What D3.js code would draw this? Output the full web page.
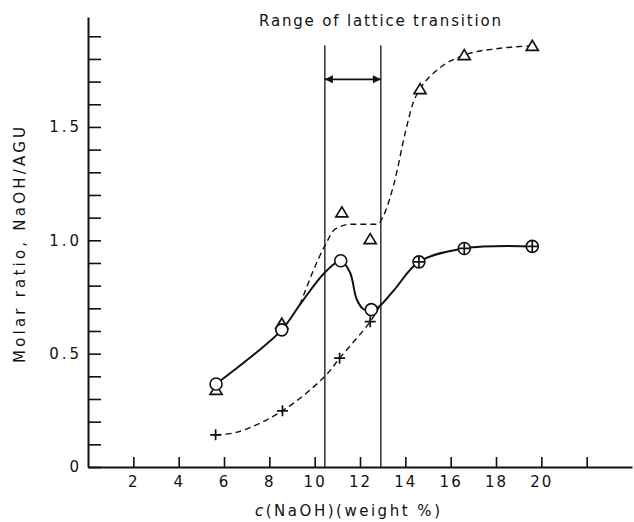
<!DOCTYPE html>
<html>
<head>
<meta charset="utf-8">
<script src="https://cdn.jsdelivr.net/npm/d3@7"></script>
<style>
  body { margin: 0; background: #fff; }
  svg { display: block; }
  text { font-family: 'DejaVu Sans', sans-serif; fill: #111; }
</style>
</head>
<body>
<div id="chart"></div>
<script>
// measured points (x = NaOH weight %, y = molar ratio)
const circleX = [5.65, 8.55, 11.15, 12.5, 14.6, 16.6, 19.6]
const circleY = [0.366, 0.605, 0.91, 0.694, 0.905, 0.964, 0.973]

const triangleX = [5.65, 8.55, 11.2, 12.45, 14.65, 16.6, 19.6]
const triangleY = [0.34, 0.632, 1.123, 1.005, 1.667, 1.817, 1.858]

const crossX = [5.63, 8.58, 11.1, 12.45, 14.6, 16.6, 19.6]
const crossY = [0.142, 0.248, 0.48, 0.641, 0.905, 0.964, 0.973]

// fitted curves as drawn in the figure
const solidCurveX = [5.65, 7.07, 8.55, 9.42, 10.45, 11.15, 11.56, 11.85, 12.14, 12.5, 12.88, 13.54, 14.6, 16.6, 19.6]
const solidCurveY = [0.366, 0.476, 0.605, 0.726, 0.858, 0.91, 0.858, 0.741, 0.697, 0.69, 0.711, 0.785, 0.905, 0.964, 0.973]

const upperCurveX = [9.35, 10.45, 10.9, 11.6, 12.8, 13.0, 13.5, 14.0, 14.35, 14.65, 15.45, 16.6, 18.1, 19.6]
const upperCurveY = [0.715, 0.976, 1.049, 1.071, 1.071, 1.101, 1.25, 1.476, 1.608, 1.667, 1.755, 1.817, 1.846, 1.858]

const lowerCurveX = [5.63, 6.63, 8.58, 10.45, 11.1, 12.45, 12.88]
const lowerCurveY = [0.142, 0.155, 0.248, 0.4, 0.48, 0.641, 0.711]

// lattice transition range
const transitionRange = [10.45, 12.92]
const transitionTop = 1.86
const arrowLevel = 1.71

const xTicks = [2, 4, 6, 8, 10, 12, 14, 16, 18, 20, 22]
const xTickLabels = ['2', '4', '6', '8', '10', '12', '14', '16', '18', '20', '']
const yTicks = [0, 0.1, 0.2, 0.3, 0.4, 0.5, 0.6, 0.7, 0.8, 0.9, 1.0, 1.1, 1.2, 1.3, 1.4, 1.5, 1.6, 1.7, 1.8, 1.9]
const yTickLabels = { 0: '0', 0.5: '0.5', 1: '1.0', 1.5: '1.5' }

const width = 634
const height = 522
const margin = { top: 17, right: 2, bottom: 55, left: 88 }

const svg = d3.select('#chart').append('svg')
  .attr('width', width)
  .attr('height', height)

const xScale = d3.scaleLinear()
  .domain([0, 24])
  .range([margin.left, width - margin.right])

const yScale = d3.scaleLinear()
  .domain([0, 1.985])
  .range([467, margin.top])

const xAxis = d3.axisBottom(xScale)
  .tickValues(xTicks)
  .tickFormat((d, i) => xTickLabels[i])
  .tickSizeInner(-10)
  .tickSizeOuter(0)
  .tickPadding(9)

const yAxis = d3.axisLeft(yScale)
  .tickValues(yTicks)
  .tickFormat(d => yTickLabels[d] || '')
  .tickSizeInner(-13)
  .tickSizeOuter(0)
  .tickPadding(6)

const gx = svg.append('g')
  .attr('transform', `translate(0, ${yScale(0)})`)
  .call(xAxis)
gx.select('.domain').attr('stroke-width', 2).attr('stroke', '#111')
gx.selectAll('.tick line').attr('stroke-width', 1.6).attr('stroke', '#111')
gx.selectAll('text')
  .style('font-size', '15px')
  .style('letter-spacing', '2px')
  .attr('fill', '#111')

const gy = svg.append('g')
  .attr('transform', `translate(${xScale(0)}, 0)`)
  .call(yAxis)
gy.select('.domain').attr('stroke-width', 2).attr('stroke', '#111')
gy.selectAll('.tick line').attr('stroke-width', 1.6).attr('stroke', '#111')
gy.selectAll('text')
  .style('font-size', '15px')
  .style('letter-spacing', '3px')
  .attr('fill', '#111')

// axis titles
svg.append('text')
  .attr('x', 255)
  .attr('y', 516)
  .attr('textLength', 185)
  .attr('lengthAdjust', 'spacing')
  .style('font-size', '15px')
  .html('<tspan font-style="italic">c</tspan>(NaOH)(weight %)')

svg.append('text')
  .attr('transform', 'translate(25, 245) rotate(-90)')
  .attr('text-anchor', 'middle')
  .attr('textLength', 236)
  .attr('lengthAdjust', 'spacing')
  .style('font-size', '15px')
  .text('Molar ratio, NaOH/AGU')

svg.append('text')
  .attr('x', 259)
  .attr('y', 26)
  .attr('textLength', 242)
  .attr('lengthAdjust', 'spacing')
  .style('font-size', '15px')
  .text('Range of lattice transition')

// transition range lines and arrow
svg.append('defs').append('marker')
  .attr('id', 'arrowhead')
  .attr('viewBox', '0 0 10 10')
  .attr('refX', 10)
  .attr('refY', 5)
  .attr('markerWidth', 10)
  .attr('markerHeight', 8)
  .attr('markerUnits', 'userSpaceOnUse')
  .attr('orient', 'auto-start-reverse')
  .append('path')
  .attr('d', 'M0,0 L10,5 L0,10 Z')
  .attr('fill', '#111')

svg.selectAll('.range-line')
  .data(transitionRange)
  .enter().append('line')
  .attr('class', 'range-line')
  .attr('x1', d => xScale(d))
  .attr('x2', d => xScale(d))
  .attr('y1', yScale(transitionTop))
  .attr('y2', yScale(0))
  .attr('stroke', '#111')
  .attr('stroke-width', 1.3)

svg.append('line')
  .attr('x1', xScale(transitionRange[0]))
  .attr('x2', xScale(transitionRange[1]))
  .attr('y1', yScale(arrowLevel))
  .attr('y2', yScale(arrowLevel))
  .attr('stroke', '#111')
  .attr('stroke-width', 1.6)
  .attr('marker-start', 'url(#arrowhead)')
  .attr('marker-end', 'url(#arrowhead)')

// curves
const smoothLine = d3.line()
  .x(d => xScale(d[0]))
  .y(d => yScale(d[1]))
  .curve(d3.curveCatmullRom.alpha(0.5))

const monoLine = d3.line()
  .x(d => xScale(d[0]))
  .y(d => yScale(d[1]))
  .curve(d3.curveMonotoneX)

const zip = (xs, ys) => xs.map((x, i) => [x, ys[i]])

svg.append('path')
  .datum(zip(solidCurveX, solidCurveY))
  .attr('d', smoothLine)
  .attr('fill', 'none')
  .attr('stroke', '#111')
  .attr('stroke-width', 2)

svg.append('path')
  .datum(zip(upperCurveX, upperCurveY))
  .attr('d', monoLine)
  .attr('fill', 'none')
  .attr('stroke', '#111')
  .attr('stroke-width', 1.4)
  .attr('stroke-dasharray', '6,4')

svg.append('path')
  .datum(zip(lowerCurveX, lowerCurveY))
  .attr('d', smoothLine)
  .attr('fill', 'none')
  .attr('stroke', '#111')
  .attr('stroke-width', 1.4)
  .attr('stroke-dasharray', '6,4')

// markers
svg.selectAll('.tri')
  .data(zip(triangleX, triangleY))
  .enter().append('path')
  .attr('class', 'tri')
  .attr('transform', d => `translate(${xScale(d[0])}, ${yScale(d[1])})`)
  .attr('d', 'M0,-5.5 L6,4.5 L-6,4.5 Z')
  .attr('fill', '#fff')
  .attr('stroke', '#111')
  .attr('stroke-width', 1.7)

svg.selectAll('.circ')
  .data(zip(circleX, circleY))
  .enter().append('circle')
  .attr('class', 'circ')
  .attr('cx', d => xScale(d[0]))
  .attr('cy', d => yScale(d[1]))
  .attr('r', 6)
  .attr('fill', '#fff')
  .attr('stroke', '#111')
  .attr('stroke-width', 1.6)

svg.selectAll('.cross')
  .data(zip(crossX, crossY))
  .enter().append('path')
  .attr('class', 'cross')
  .attr('transform', d => `translate(${xScale(d[0])}, ${yScale(d[1])})`)
  .attr('d', 'M-5.5,0 H5.5 M0,-5.5 V5.5')
  .attr('fill', 'none')
  .attr('stroke', '#111')
  .attr('stroke-width', 1.7)
</script>
</body>
</html>
